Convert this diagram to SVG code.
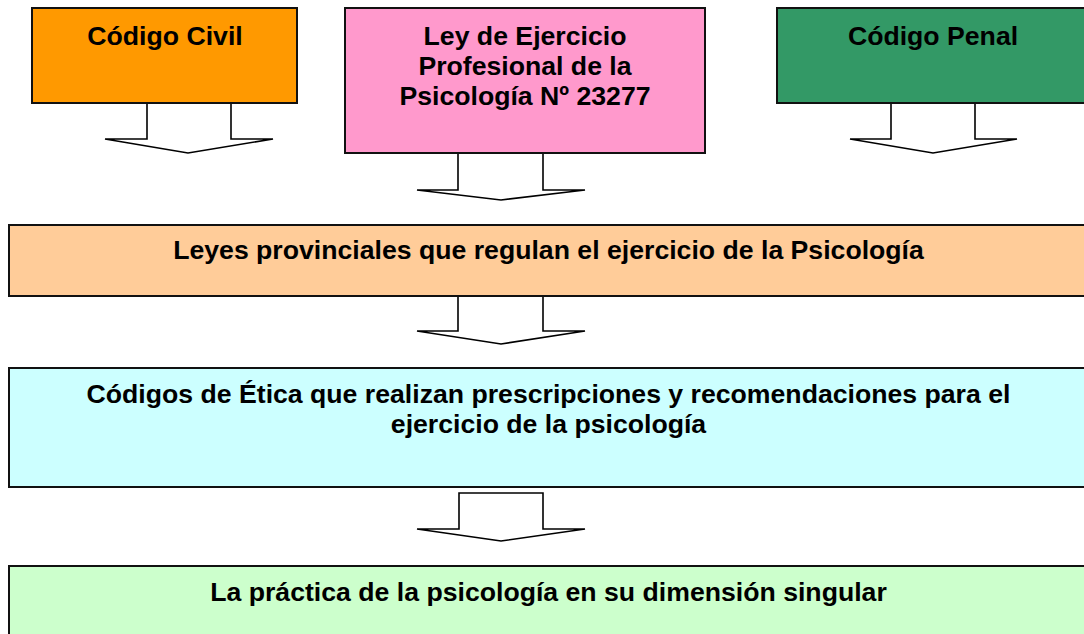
<svg xmlns="http://www.w3.org/2000/svg" width="1084" height="634" viewBox="0 0 1084 634">
<style>
.box{stroke:#111;stroke-width:2}
.t{font-family:"Liberation Sans",Arial,sans-serif;font-weight:bold;font-size:26.65px;fill:#000;text-anchor:middle}
.arr{fill:#fff;stroke:#000;stroke-width:1.6;stroke-linejoin:miter}
</style>
<rect width="1084" height="634" fill="#fff"/>
<g id="codigo-civil">
<rect class="box" x="32" y="8" width="265" height="95" fill="#FF9900"/>
<text class="t" x="165" y="45">Código Civil</text>
</g>
<g id="ley-ejercicio">
<rect class="box" x="345" y="8" width="360" height="145" fill="#FF99CC"/>
<text class="t" x="525" y="45">Ley de Ejercicio</text>
<text class="t" x="525" y="75">Profesional de la</text>
<text class="t" x="525" y="105">Psicología Nº 23277</text>
</g>
<g id="codigo-penal">
<rect class="box" x="777" y="8" width="320" height="95" fill="#339966"/>
<text class="t" x="933" y="45">Código Penal</text>
</g>
<g id="leyes-provinciales">
<rect class="box" x="9" y="225" width="1090" height="71" fill="#FFCC99"/>
<text class="t" x="548.5" y="259">Leyes provinciales que regulan el ejercicio de la Psicología</text>
</g>
<g id="codigos-etica">
<rect class="box" x="9" y="368" width="1090" height="119" fill="#CCFFFF"/>
<text class="t" x="548.5" y="403">Códigos de Ética que realizan prescripciones y recomendaciones para el</text>
<text class="t" x="548.5" y="433">ejercicio de la psicología</text>
</g>
<g id="practica">
<rect class="box" x="9" y="566" width="1090" height="80" fill="#CCFFCC"/>
<text class="t" x="548.5" y="601">La práctica de la psicología en su dimensión singular</text>
</g>
<g id="connectors">
<path class="arr" d="M147,104 V139 H105 L188,153 L273,139 H231 V104"/>
<path class="arr" d="M458,154 V190 H417 L501,200 L585,190 H543 V154"/>
<path class="arr" d="M891,104 V139 H850 L933,153 L1017,139 H975 V104"/>
<path class="arr" d="M458,297 V331 H417 L501,344 L585,331 H543 V297"/>
<path class="arr" d="M459,493 H543 V529 H585 L501,541 L417,529 H459 Z"/>
</g>
</svg>
